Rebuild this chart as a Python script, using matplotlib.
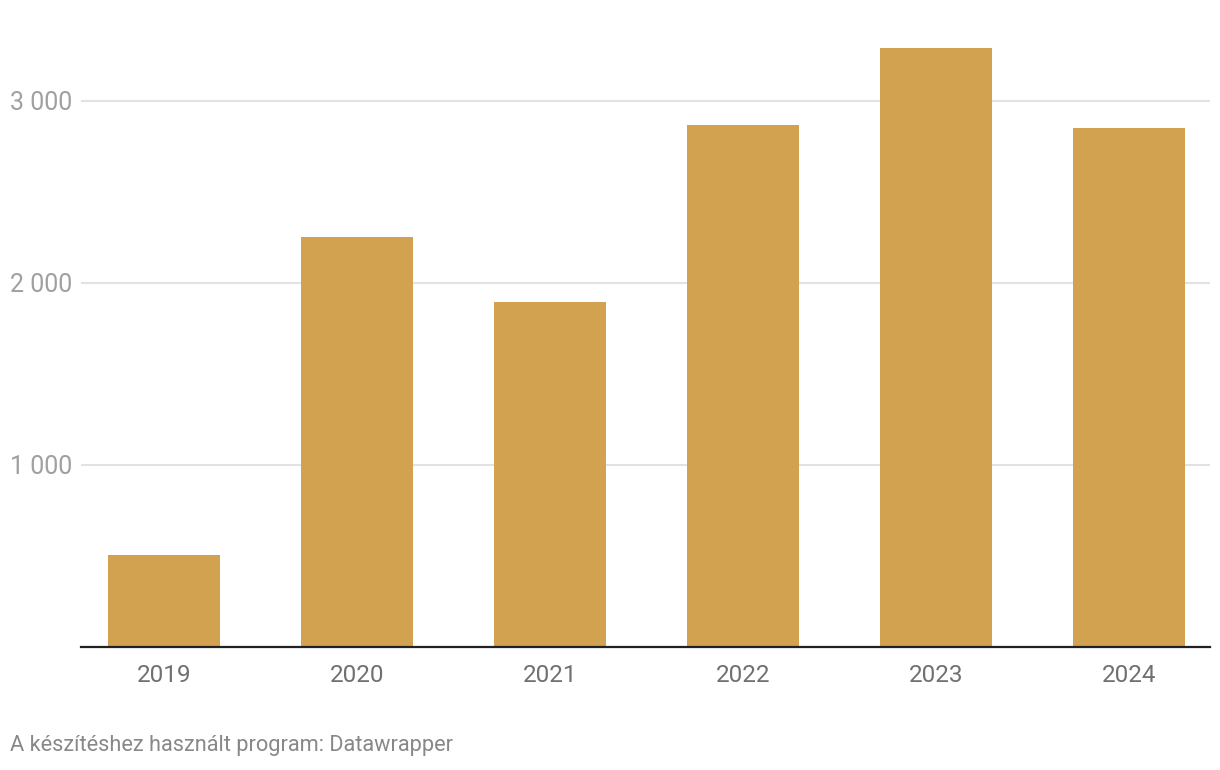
import matplotlib.pyplot as plt
from matplotlib.ticker import FuncFormatter

years = ['2019', '2020', '2021', '2022', '2023', '2024']
values = [505, 2253, 1896, 2868, 3291, 2852]
yticks = [1000, 2000, 3000]

plt.rcParams['font.family'] = ['Roboto', 'DejaVu Sans']

fig = plt.figure(figsize=(12.2, 7.7), dpi=100)
ax = fig.add_axes([81 / 1220, 1 - 647 / 770, (1210 - 81) / 1220, (647 - 37) / 770])

x = list(range(len(years)))
ax.bar(x, values, width=0.58, color='#d3a251', zorder=2)
ax.set_xlim(-0.43, 5.42)
ax.set_ylim(0, 3350)

ax.set_yticks(yticks)
ax.yaxis.set_major_formatter(FuncFormatter(lambda v, p: f'{int(v):,}'.replace(',', ' ')))
ax.grid(axis='y', color='#e2e2e2', linewidth=1.5, zorder=0)
# pad in points: labels start ~71 px left of the axes
ax.tick_params(axis='y', length=0, pad=71 * 0.72, labelsize=18, labelcolor='#a0a0a0')
for lbl in ax.get_yticklabels():
    lbl.set_horizontalalignment('left')

ax.set_xticks(x)
ax.set_xticklabels(years)
ax.tick_params(axis='x', length=0, pad=12, labelsize=17.5, labelcolor='#707070')

for s in ['top', 'right', 'left']:
    ax.spines[s].set_visible(False)
ax.spines['bottom'].set_color('#222222')
ax.spines['bottom'].set_linewidth(1.6)
ax.spines['bottom'].set_zorder(3)

fig.text(10 / 1220, 1 - 746 / 770, 'A készítéshez használt program: Datawrapper',
         fontsize=15.7, color='#888888', va='center', ha='left')

fig.savefig('out.png', dpi=100, facecolor='white')
